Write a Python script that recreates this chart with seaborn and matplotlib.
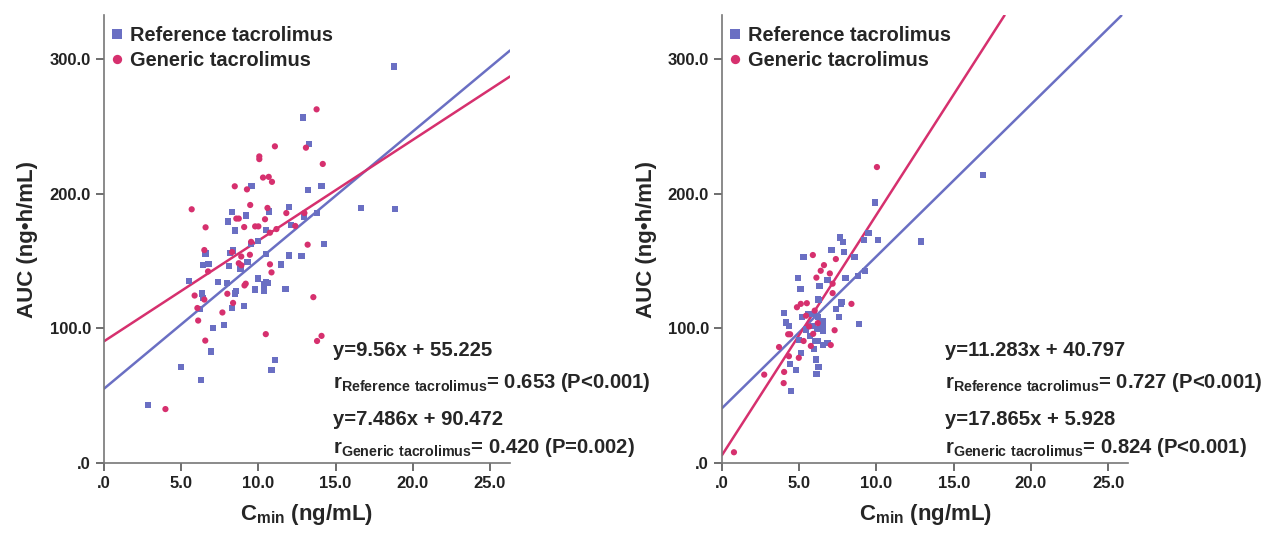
import numpy as np
import pandas as pd
import matplotlib
matplotlib.use("Agg")
import matplotlib.pyplot as plt
import seaborn as sns

sns.set_style("white")
plt.rcParams['font.family'] = ['Liberation Sans', 'DejaVu Sans']
plt.rcParams['mathtext.fontset'] = 'custom'
plt.rcParams['mathtext.rm'] = 'Liberation Sans'
plt.rcParams['mathtext.bf'] = 'Liberation Sans:bold'

# Panel A - reference tacrolimus (Cmin, AUC)
a_ref_x = [18.76, 12.87, 13.27, 9.55, 13.19, 14.09, 16.67, 18.87, 11.97, 8.28, 8.01, 8.49,
           9.18, 10.67, 10.51, 12.95, 14.25, 6.58, 8.15, 8.36, 10.51, 6.42, 6.77, 8.09,
           8.84, 9.29, 11.47, 11.97, 12.79, 5.49, 7.38, 7.96, 9.95, 10.48, 10.64, 10.35,
           6.37, 6.40, 8.57, 8.49, 9.77, 10.38, 11.76, 6.24, 8.31, 9.08, 7.06, 7.78,
           6.95, 4.99, 6.26, 11.07, 10.85, 2.87, 9.50, 13.80, 12.10, 10.00]
a_ref_y = [294.7, 256.9, 237.0, 205.7, 202.7, 206.0, 189.6, 189.0, 190.3, 186.5, 179.5, 172.9,
           184.0, 187.0, 173.4, 182.8, 162.8, 155.8, 156.0, 158.0, 155.3, 147.2, 147.7, 146.7,
           144.2, 149.7, 147.5, 154.3, 153.8, 135.1, 134.6, 134.1, 137.1, 134.6, 133.6, 132.8,
           126.0, 122.5, 127.8, 126.0, 129.0, 128.3, 129.3, 114.7, 115.2, 117.0, 100.6, 102.6,
           82.9, 71.6, 61.8, 76.4, 69.3, 43.4, 163.0, 186.0, 177.0, 165.0]

# Panel A - generic tacrolimus
a_gen_x = [13.77, 11.07, 13.08, 10.06, 10.06, 14.17, 10.30, 10.67, 10.88, 8.47, 9.26, 5.68,
           9.47, 10.59, 11.81, 12.98, 8.57, 8.73, 10.43, 6.58, 9.08, 9.79, 10.00, 11.17,
           10.75, 12.39, 9.53, 13.19, 6.50, 8.30, 9.45, 8.89, 8.73, 10.75, 6.74, 10.85,
           9.18, 5.87, 6.50, 7.99, 8.36, 13.56, 6.05, 7.67, 6.10, 10.48, 6.56, 14.09,
           13.80, 3.98, 9.10, 8.90]
a_gen_y = [262.9, 235.4, 234.4, 227.9, 225.9, 222.3, 212.2, 212.7, 209.0, 205.7, 203.4, 188.6,
           191.8, 189.6, 185.8, 185.8, 181.7, 181.7, 181.2, 175.2, 175.4, 175.9, 175.9, 173.9,
           171.2, 176.2, 164.4, 162.3, 158.3, 156.8, 154.8, 153.5, 148.5, 147.7, 142.4, 141.7,
           133.3, 124.5, 121.5, 125.8, 119.0, 123.3, 115.2, 111.9, 105.9, 95.8, 91.0, 94.5,
           90.7, 40.1, 132.0, 147.0]

# Panel B - reference tacrolimus
b_ref_x = [16.88, 9.92, 10.10, 12.89, 9.48, 9.18, 7.63, 7.81, 7.09, 7.89, 8.58, 5.28,
           9.25, 8.79, 7.99, 4.90, 6.83, 6.31, 5.08, 7.73, 7.68, 6.21, 7.37, 4.02,
           7.58, 8.89, 4.15, 4.33, 5.18, 5.57, 6.19, 6.52, 6.39, 5.88, 6.52, 6.13,
           6.52, 5.44, 5.70, 4.98, 6.21, 6.52, 6.83, 6.00, 5.95, 5.10, 6.08, 6.24,
           4.41, 4.77, 6.11, 4.48, 5.93, 6.30]
b_ref_y = [214.3, 193.7, 165.9, 164.7, 170.9, 165.9, 167.7, 164.4, 158.4, 156.6, 153.4, 152.9,
           142.9, 139.3, 137.8, 137.8, 136.3, 131.8, 129.6, 119.5, 118.3, 121.6, 114.5, 111.3,
           108.8, 103.3, 104.5, 102.0, 108.3, 110.8, 108.8, 105.8, 104.3, 102.0, 102.8, 99.5,
           98.2, 99.2, 94.5, 91.2, 90.7, 87.7, 89.2, 90.7, 84.5, 82.0, 76.9, 71.2,
           73.7, 69.4, 66.2, 53.6, 110.8, 121.0]

# Panel B - generic tacrolimus
b_gen_x = [10.03, 5.88, 6.60, 7.37, 6.39, 6.98, 6.11, 7.16, 7.16, 8.38, 5.49, 4.85,
           5.10, 6.00, 5.44, 7.29, 4.41, 4.28, 5.28, 5.75, 7.04, 3.69, 4.33, 4.97,
           4.02, 3.99, 2.73, 0.77, 5.64, 6.20, 5.90]
b_gen_y = [220.0, 154.6, 147.1, 151.6, 142.9, 140.9, 137.8, 133.3, 126.3, 118.3, 118.8, 115.8,
           118.3, 113.3, 109.5, 98.7, 95.7, 95.7, 90.7, 87.0, 87.7, 86.2, 79.4, 78.2,
           67.7, 59.4, 65.7, 8.0, 101.5, 104.0, 96.0]

# regression lines as printed on the chart: slope, intercept
a_fit = {"Reference tacrolimus": (9.56, 55.225), "Generic tacrolimus": (7.486, 90.472)}
b_fit = {"Reference tacrolimus": (11.283, 40.797), "Generic tacrolimus": (17.865, 5.928)}

a_text = ["y=9.56x + 55.225", "0.653 (P<0.001)", "y=7.486x + 90.472", "0.420 (P=0.002)"]
b_text = ["y=11.283x + 40.797", "0.727 (P<0.001)", "y=17.865x + 5.928", "0.824 (P<0.001)"]

groups = ["Reference tacrolimus", "Generic tacrolimus"]
colors = {"Reference tacrolimus": "#6a6fc3", "Generic tacrolimus": "#d6306e"}
markers = {"Reference tacrolimus": "s", "Generic tacrolimus": "o"}
XMAX, YMAX = 26.3, 333


def make_df(rx, ry, gx, gy):
    return pd.concat([
        pd.DataFrame({"Cmin": rx, "AUC": ry, "grp": groups[0]}),
        pd.DataFrame({"Cmin": gx, "AUC": gy, "grp": groups[1]}),
    ], ignore_index=True)


def draw(ax, df, fit, txt, tx):
    for g in groups:
        k, b = fit[g]
        xs = np.linspace(0, XMAX, 300)
        ys = k * xs + b
        m = ys <= YMAX
        ax.plot(xs[m], ys[m], color=colors[g], lw=1.8, zorder=2)
    sns.scatterplot(data=df, x="Cmin", y="AUC", hue="grp", style="grp",
                    palette=colors, markers=markers, hue_order=groups, style_order=groups,
                    s=20, edgecolor="none", ax=ax, zorder=3)
    ax.set_xlim(0, XMAX)
    ax.set_ylim(0, YMAX)
    ax.set_xticks([0, 5, 10, 15, 20, 25])
    ax.set_xticklabels([".0", "5.0", "10.0", "15.0", "20.0", "25.0"])
    ax.set_yticks([0, 100, 200, 300])
    ax.set_yticklabels([".0", "100.0", "200.0", "300.0"])
    for s in ["top", "right"]:
        ax.spines[s].set_visible(False)
    for s in ["left", "bottom"]:
        ax.spines[s].set_color("#777777")
        ax.spines[s].set_linewidth(1.2)
    ax.tick_params(axis="both", direction="out", length=6, width=1.2, color="#555555",
                   labelsize=12, labelcolor="#222222", left=True, bottom=True)
    for lab in ax.get_xticklabels() + ax.get_yticklabels():
        lab.set_fontweight("bold")
    ax.set_xlabel(r"C$_{\mathbf{min}}$ (ng/mL)", fontsize=16, fontweight="bold", labelpad=8)
    ax.set_ylabel("AUC (ng•h/mL)", fontsize=16, fontweight="bold", labelpad=8)
    ax.legend(loc="upper left", bbox_to_anchor=(0.012, 0.976), frameon=False,
              handlelength=0.8, handletextpad=0.25, borderaxespad=0, borderpad=0,
              labelspacing=0.32, markerscale=1.5, prop={"size": 14.4, "weight": "bold"})
    kw = dict(transform=ax.transAxes, fontsize=14.6, fontweight="bold", va="center")
    ax.text(tx, 0.252, txt[0], **kw)
    ax.text(tx, 0.180, r"r$_{\mathbf{Reference\ tacrolimus}}$= " + txt[1], **kw)
    ax.text(tx, 0.098, txt[2], **kw)
    ax.text(tx, 0.034, r"r$_{\mathbf{Generic\ tacrolimus}}$= " + txt[3], **kw)


fig = plt.figure(figsize=(12.65, 5.33), dpi=100)
ax1 = fig.add_axes([0.0822, 0.1313, 0.321, 0.8405])
ax2 = fig.add_axes([0.5708, 0.1313, 0.321, 0.8405])

draw(ax1, make_df(a_ref_x, a_ref_y, a_gen_x, a_gen_y), a_fit, a_text, 0.565)
draw(ax2, make_df(b_ref_x, b_ref_y, b_gen_x, b_gen_y), b_fit, b_text, 0.550)

fig.savefig("out.png", dpi=100)
